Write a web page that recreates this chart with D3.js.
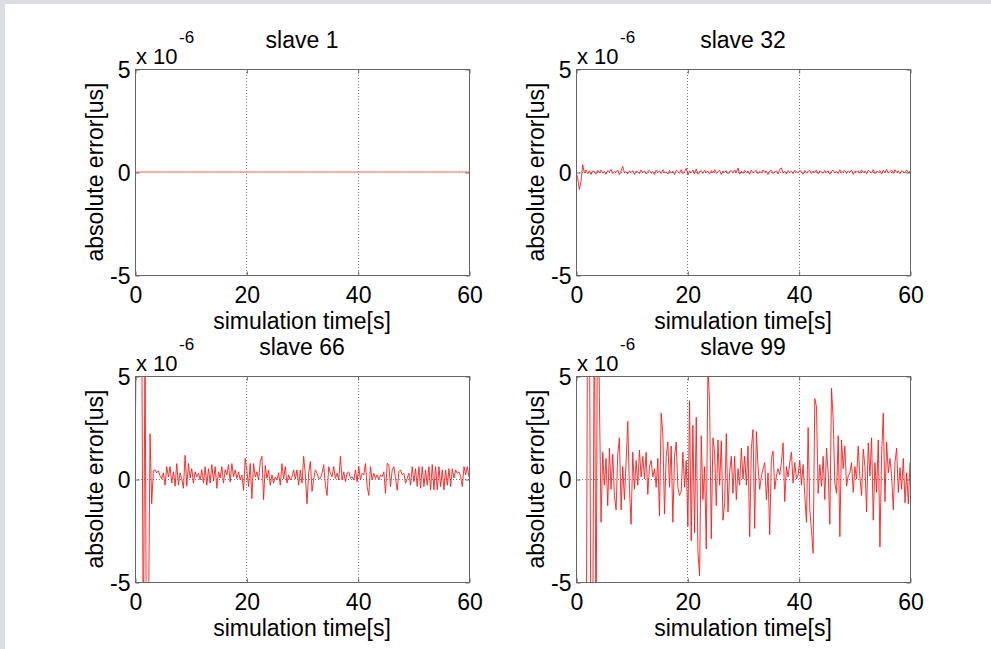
<!DOCTYPE html>
<html>
<head>
<meta charset="utf-8">
<script src="https://cdn.jsdelivr.net/npm/d3@7"></script>
<style>
  body { margin: 0; background: #dadde1; }
  svg { display: block; font-family: "Liberation Sans", Arial, Helvetica, sans-serif; }
</style>
</head>
<body>
<svg id="chart" width="991" height="649"></svg>
<script>
// values are in units of 1e-6 (the axis multiplier)
const titles = ["slave 1", "slave 32", "slave 66", "slave 99"];
const xTicks = [0, 20, 40, 60];
const yTicks = [-5, 0, 5];
const xGrid = [20, 40];
const yGrid = [0];

// sample spacing in seconds for each series
const steps = [60, 0.3, 0.3, 0.3];

const slave1 = [0, 0];

const slave32 = [
  0.00, -0.30, -0.85, -0.45, 0.35, -0.05, 0.10, -0.08, 0.06, -0.12,
  0.05, 0.02, -0.10, 0.08, -0.04, 0.10, -0.06, 0.03, -0.11, 0.07,
  0.00, 0.12, -0.07, 0.04, -0.02, 0.09, -0.13, 0.06, 0.27, -0.05,
  0.02, -0.09, 0.05, -0.03, 0.07, -0.12, 0.04, 0.01, -0.08, 0.10,
  -0.04, 0.06, -0.10, 0.03, 0.08, -0.06, 0.02, -0.13, 0.09, -0.02,
  0.05, -0.07, 0.11, -0.03, 0.00, -0.10, 0.07, -0.05, 0.04, -0.12,
  0.08, 0.02, -0.06, 0.12, -0.09, 0.03, 0.18, -0.14, 0.05, -0.03,
  0.10, -0.08, 0.15, -0.11, 0.02, 0.06, -0.07, 0.09, -0.02, 0.04,
  -0.10, 0.07, -0.04, 0.11, -0.06, 0.01, 0.08, -0.12, 0.05, -0.01,
  0.06, -0.09, 0.03, 0.07, -0.05, 0.10, -0.03, 0.19, -0.10, 0.04,
  -0.06, 0.08, -0.02, 0.05, -0.11, 0.09, -0.04, 0.02, 0.07, -0.08,
  0.03, -0.05, 0.10, -0.02, 0.06, -0.12, 0.04, 0.08, -0.07, 0.01,
  0.05, -0.09, 0.12, 0.20, -0.06, 0.03, -0.10, 0.07, -0.03, 0.05,
  -0.08, 0.09, 0.00, -0.04, 0.06, 0.02, -0.11, 0.08, -0.05, 0.03,
  0.07, -0.07, 0.04, -0.02, 0.10, -0.09, 0.05, 0.01, -0.06, 0.08,
  -0.03, 0.06, -0.10, 0.04, 0.09, -0.05, 0.02, -0.08, 0.11, -0.04,
  0.03, 0.07, -0.07, 0.05, -0.02, 0.09, -0.11, 0.04, 0.00, 0.06,
  -0.06, 0.10, -0.03, 0.05, -0.09, 0.08, 0.02, -0.05, 0.12, -0.08,
  0.04, -0.01, 0.07, -0.10, 0.09, -0.04, 0.13, -0.06, 0.03, 0.08,
  -0.07, 0.11, -0.02, 0.05, -0.09, 0.06, 0.01, -0.05, 0.10, -0.03,
  0.04
];

const slave66 = [
  0.5, 9, 14, 12, 8, -9, 7, -12, -8, 2.2,
  -1.2, 0.4, 0.45, 0.3, 0.4, 0.15, 0.0, 0.3, -0.3, 0.6,
  0.1, 0.6, -0.2, 0.35, -0.35, 0.75, -0.3, 0.3, 0.0, -0.45,
  1.15, -0.35, 0.75, 0.05, 0.5, -0.2, 0.35, 0.1, 0.28, -0.05,
  0.45, -0.2, 0.6, -0.3, 0.5, -0.2, 0.7, -0.1, 0.6, -0.45,
  0.35, 0.05, 0.6, -0.2, 0.45, 0.2, 0.7, -0.15, 0.75, 0.1,
  0.44, 0.03, 0.35, -0.05, 0.2, -0.55, 1.0, 0.4, -0.37, 0.75,
  -0.95, 0.75, 0.1, 0.35, -0.05, 0.85, 1.1, -1.0, 0.65, 0.03,
  0.44, -0.3, 0.2, -0.2, 0.1, -0.05, 0.3, -0.3, 0.75, 0.0,
  0.6, -0.2, 0.2, -0.05, 0.1, 0.44, 0.0, 0.44, -0.3, 0.44,
  -0.2, 1.1, 0.2, -1.2, 0.3, 0.85, -0.6, 0.0, 0.44, 0.28,
  0.03, 0.03, 0.28, 0.7, -0.3, -0.8, 0.6, 0.28, 0.11, 0.6,
  0.03, 0.28, -0.05, 1.1, -0.05, 0.35, -0.13, 0.28, 0.35, 0.03,
  0.11, -0.05, 0.44, -0.13, 0.6, -0.05, 0.28, 0.2, 0.75, -0.37,
  -0.8, 0.6, -0.05, 0.28, 0.03, 0.2, -0.05, 0.2, 0.11, 0.35,
  -0.7, 0.76, 0.7, -0.37, 0.44, 0.6, 0.03, -0.55, 0.35, 0.44,
  0.2, 0.28, -0.21, 0.03, 0.28, -0.3, 0.6, -0.13, 0.5, -0.37,
  0.6, -0.45, 0.6, -0.37, 0.44, -0.3, 0.6, -0.53, 0.7, -0.53,
  0.6, -0.53, 0.6, -0.37, 0.44, -0.53, 0.44, -0.3, 0.5, -0.37,
  0.5, 0.05, 0.44, 0.28, 0.35, 0.11, -0.37, 0.6, 0.2, 0.6,
  0.1
];

const slave99 = [
  -2.0, -9, -14, -16, -15, -12, -12, 10, 9, -10,
  -8, 9, -9, 12, 4.0, -2.1, 1.3, -0.3, 1.0, -1.3,
  1.5, -0.5, 1.2, -0.8, -1.5, 1.2, 2.0, -1.5, 0.6, -1.0,
  0.8, 2.8, -0.5, -2.2, 1.3, -0.5, 0.9, -0.3, 1.4, 0.1,
  1.1, 0.0, 1.3, -0.75, 0.6, 0.9, 0.1, 0.5, -0.4, 1.0,
  -1.8, 3.2, 2.2, -1.7, 1.1, 1.8, -0.4, 1.6, -2.1, 1.1,
  1.8, -0.4, -0.8, -0.6, 1.3, -0.4, 0.9, -2.3, 3.8, -3.0,
  2.6, -2.6, 3.0, -3.5, -4.7, 2.1, -1.0, 0.6, -3.4, 5.5,
  3.7, -2.9, 2.0, 1.3, -1.3, 1.9, -0.3, 1.85, -2.0, -1.2,
  2.2, -1.6, 0.3, 1.1, -0.7, 1.1, -1.0, 0.5, -0.3, 1.5,
  0.0, 1.1, -0.3, 1.6, -2.8, 1.5, 2.4, -2.4, 2.3, 0.6,
  -0.5, 0.15, 0.5, 0.8, -1.0, 0.3, -2.7, 1.0, 1.35, -0.5,
  0.15, 0.5, 0.2, 0.8, 1.75, -1.1, 0.6, 0.1, 0.8, 1.3,
  -0.2, 0.8, 0.0, 0.2, 0.9, -0.3, 0.7, -0.8, -2.1, 2.5,
  -1.5, -2.5, -3.6, 3.9, 3.5, -0.7, 0.7, -0.35, 1.1, -1.0,
  1.5, 0.3, -2.2, 4.4, 2.9, -0.2, -0.7, 2.1, -2.8, 1.9,
  0.5, 1.6, -0.35, 0.15, 0.3, 0.8, -0.65, 0.6, 0.0, 1.6,
  0.1, -0.8, 1.45, 0.6, -1.6, 1.75, 0.15, 2.0, -2.0, 0.8,
  -0.65, 1.9, -3.3, 1.2, 3.2, -1.1, 1.8, 0.3, 1.0, 0.15,
  -1.5, 0.8, 1.5, -0.65, 0.55, -0.5, 1.0, -1.15, 0.3, -1.2,
  0.8
];

const series = [slave1, slave32, slave66, slave99];

const svg = d3.select("#chart");

// white figure area, grey strip left and top
svg.append("rect")
  .attr("x", 5).attr("y", 4)
  .attr("width", 986).attr("height", 645)
  .attr("fill", "#ffffff");

const colLeft = [135, 576];
const rowTop = [69, 376];
const width = 334;
const height = 206;

// plain hyphen minus like the original, not the unicode minus
const plainNumber = d => String(d);

series.forEach(function(values, k) {
  const left = colLeft[k % 2];
  const top = rowTop[Math.floor(k / 2)];
  const step = steps[k];

  const g = svg.append("g").attr("transform", `translate(${left},${top})`);

  const x = d3.scaleLinear().domain([0, 60]).range([0, width]);
  const y = d3.scaleLinear().domain([-5, 5]).range([height, 0]);

  // clip for the data line
  g.append("clipPath").attr("id", "clip" + k)
    .append("rect").attr("width", width).attr("height", height);

  // dotted grid
  g.selectAll(".xgrid").data(xGrid).enter().append("line")
    .attr("x1", d => Math.round(x(d)) + 0.5).attr("x2", d => Math.round(x(d)) + 0.5)
    .attr("y1", 0).attr("y2", height)
    .attr("stroke", "#7a7a7a").attr("stroke-width", 1)
    .attr("stroke-dasharray", "1,2");
  g.selectAll(".ygrid").data(yGrid).enter().append("line")
    .attr("x1", 0).attr("x2", width)
    .attr("y1", d => Math.round(y(d)) + 0.5).attr("y2", d => Math.round(y(d)) + 0.5)
    .attr("stroke", "#7a7a7a").attr("stroke-width", 1)
    .attr("stroke-dasharray", "1,2");

  // data line
  const line = d3.line()
    .x((d, i) => x(i * step))
    .y(d => y(d));
  g.append("path")
    .datum(values)
    .attr("clip-path", `url(#clip${k})`)
    .attr("fill", "none")
    .attr("stroke", k === 0 ? "#ff9a9a" : "#ff1a1a")
    .attr("stroke-width", k === 0 ? 1.6 : 0.9)
    .attr("d", line);

  // box
  g.append("rect")
    .attr("x", 0.5).attr("y", 0.5)
    .attr("width", width).attr("height", height)
    .attr("fill", "none").attr("stroke", "#666");

  // inward ticks on all four sides
  const bottom = g.append("g").attr("transform", `translate(0.5,${height + 0.5})`)
    .call(d3.axisBottom(x).tickValues(xTicks).tickSize(-4).tickFormat(plainNumber));
  g.append("g").attr("transform", "translate(0.5,0.5)")
    .call(d3.axisTop(x).tickValues(xTicks).tickSize(-4).tickFormat(""));
  const leftAxis = g.append("g").attr("transform", "translate(0.5,0.5)")
    .call(d3.axisLeft(y).tickValues(yTicks).tickSize(-4).tickPadding(5).tickFormat(plainNumber));
  g.append("g").attr("transform", `translate(${width + 0.5},0.5)`)
    .call(d3.axisRight(y).tickValues(yTicks).tickSize(-4).tickFormat(""));

  g.selectAll(".domain").remove();
  g.selectAll(".tick line").attr("stroke", "#666");
  g.selectAll(".tick text")
    .attr("fill", "#000")
    .style("font-size", "23px")
    .style("font-family", '"Liberation Sans", Arial, sans-serif');
  bottom.selectAll("text").attr("y", 27).attr("dy", 0);
  leftAxis.selectAll("text").attr("dy", "0.36em");

  // labels
  g.append("text")
    .attr("x", width / 2).attr("y", height + 53.5)
    .attr("text-anchor", "middle")
    .style("font-size", "23px")
    .text("simulation time[s]");

  g.append("text")
    .attr("transform", `translate(-32,${height / 2}) rotate(-90)`)
    .attr("text-anchor", "middle")
    .style("font-size", "23px")
    .text("absolute error[us]");

  g.append("text")
    .attr("x", width / 2).attr("y", -21)
    .attr("text-anchor", "middle")
    .style("font-size", "23px")
    .text(titles[k]);

  // exponent multiplier
  g.append("text")
    .attr("x", 1).attr("y", -5)
    .style("font-size", "22px")
    .text("x 10");
  g.append("text")
    .attr("x", 44).attr("y", -26)
    .style("font-size", "17px")
    .text("-6");
});
</script>
</body>
</html>
